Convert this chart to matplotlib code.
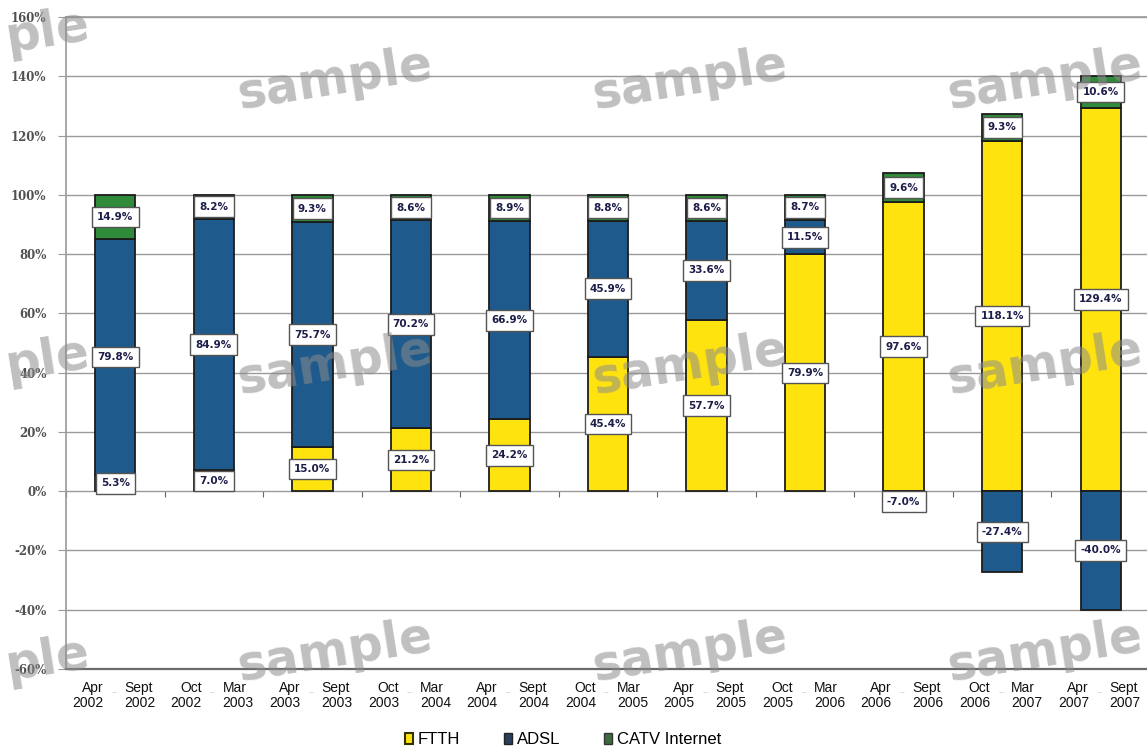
import matplotlib
matplotlib.use("Agg")
import matplotlib.pyplot as plt
import numpy as np
from matplotlib.patches import Patch

# Half-year periods (start / end of each period)
period_start = ["Apr\n2002", "Oct\n2002", "Apr\n2003", "Oct\n2003", "Apr\n2004",
                "Oct\n2004", "Apr\n2005", "Oct\n2005", "Apr\n2006", "Oct\n2006",
                "Apr\n2007"]
period_end = ["Sept\n2002", "Mar\n2003", "Sept\n2003", "Mar\n2004", "Sept\n2004",
              "Mar\n2005", "Sept\n2005", "Mar\n2006", "Sept\n2006", "Mar\n2007",
              "Sept\n2007"]

# Share of net subscriber additions (%)
ftth = [5.3, 7.0, 15.0, 21.2, 24.2, 45.4, 57.7, 79.9, 97.6, 118.1, 129.4]
adsl = [79.8, 84.9, 75.7, 70.2, 66.9, 45.9, 33.6, 11.5, -7.0, -27.4, -40.0]
catv = [14.9, 8.2, 9.3, 8.6, 8.9, 8.8, 8.6, 8.7, 9.6, 9.3, 10.6]

series_names = ["FTTH", "ADSL", "CATV Internet"]
y_ticks = [-60, -40, -20, 0, 20, 40, 60, 80, 100, 120, 140, 160]

YELLOW = "#FFE30F"
BLUE = "#1E5A8C"
GREEN = "#2F8A3A"
EDGE = "#1c1c1c"

plt.rcParams["font.family"] = ["Liberation Sans", "DejaVu Sans"]

fig = plt.figure(figsize=(11.47, 7.51), dpi=100)
ax = fig.add_axes([66 / 1147, 1 - 669 / 751, (1150 - 66) / 1147, (669 - 17) / 751])

x = np.arange(len(ftth))
ftth_a = np.array(ftth)
adsl_a = np.array(adsl)
catv_a = np.array(catv)

width = 0.41
adsl_bottom = np.where(adsl_a >= 0, ftth_a, 0.0)
catv_bottom = ftth_a + np.clip(adsl_a, 0, None)

ax.bar(x, ftth_a, width, color=YELLOW, edgecolor=EDGE, linewidth=1.3, zorder=3)
ax.bar(x, adsl_a, width, bottom=adsl_bottom, color=BLUE, edgecolor=EDGE,
       linewidth=1.3, zorder=3)
ax.bar(x, catv_a, width, bottom=catv_bottom, color=GREEN, edgecolor=EDGE,
       linewidth=1.3, zorder=3)

# Value labels in boxes at the middle of each segment
box = dict(boxstyle="square,pad=0.5", facecolor="white", edgecolor="#555555", linewidth=1.0)
for vals, bottoms in ((ftth_a, np.zeros_like(ftth_a)), (adsl_a, adsl_bottom), (catv_a, catv_bottom)):
    for xi, v, b in zip(x, vals, bottoms):
        ax.text(xi, b + v / 2, f"{v:.1f}%", ha="center", va="center", fontsize=7.5,
                color="#1d1d4a", family=["DejaVu Sans"], fontweight="bold",
                bbox=box, zorder=5)

# Axes styling
ax.set_xlim(-0.5, 10.5)
ax.set_ylim(-60, 160)
ax.set_yticks(y_ticks)
ax.set_yticklabels([f"{t}%" for t in y_ticks], fontsize=8.5, color="#505050",
                   family=["DejaVu Serif"], fontweight="bold")
ax.yaxis.grid(True, color="#9a9a9a", linewidth=1.0, zorder=0)
ax.set_axisbelow(True)
ax.tick_params(axis="y", length=6, color="#9a9a9a", pad=8)
ax.set_xticks([])
for side in ("left", "top", "right"):
    ax.spines[side].set_color("#9a9a9a")
    ax.spines[side].set_linewidth(1.2)
ax.spines["bottom"].set_color("#6a6a6a")
ax.spines["bottom"].set_linewidth(1.6)

# Category separator ticks on the zero line
sec = ax.secondary_xaxis(60 / 220)
sec.set_xticks(np.arange(-0.5, 10.6, 1.0))
sec.set_xticklabels([])
sec.tick_params(length=4, color="#666666", direction="out")
sec.spines["bottom"].set_visible(False)

# Two-part period labels under the plot
trans = ax.get_xaxis_transform()
for xi, s, e in zip(x, period_start, period_end):
    ax.text(xi - 0.12, -0.018, s, transform=trans, ha="right", va="top",
            fontsize=10, linespacing=1.15, color="#111111")
    ax.text(xi + 0.09, -0.018, e, transform=trans, ha="left", va="top",
            fontsize=10, linespacing=1.15, color="#111111")
    ax.text(xi - 0.015, -0.038, "~", transform=trans, ha="center", va="center",
            fontsize=6, color="#bbbbbb")

# Legend
handles = [Patch(facecolor=YELLOW, edgecolor="#333300", linewidth=1.5),
           Patch(facecolor="#2a3f5a", edgecolor="#222222", linewidth=1.0),
           Patch(facecolor="#3f6a3f", edgecolor="#333333", linewidth=1.0)]
fig.legend(handles, series_names, loc="center", bbox_to_anchor=(563 / 1147, 1 - 740 / 751),
           ncol=3, frameon=False, fontsize=12, handlelength=0.5, handleheight=0.6,
           handletextpad=0.3, columnspacing=2.6)

# "sample" watermark grid (the left column is only partly on the canvas)
wm = dict(ha="center", va="center", rotation=9, fontsize=35, fontweight="bold",
          color="#8c8c8c", alpha=0.55, family=["DejaVu Sans"], zorder=10)
for ly in (32, 360, 660):
    fig.text(2 / 1147, 1 - ly / 751, "ple", **{**wm, "ha": "left"})
for wy in (80, 365, 652):
    for wx in (335, 690, 1045):
        fig.text(wx / 1147, 1 - wy / 751, "sample", **wm)

fig.savefig("out.png", dpi=100)
